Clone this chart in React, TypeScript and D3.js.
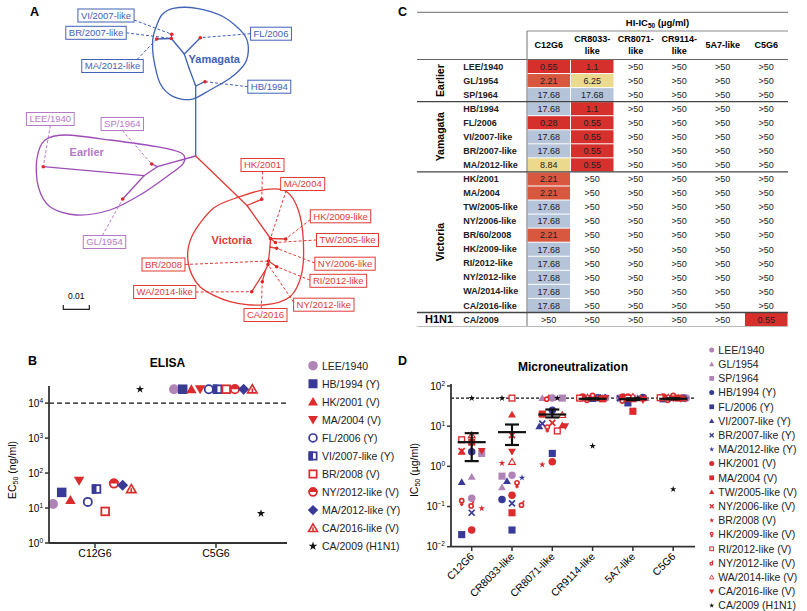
import * as d3 from "d3";

const FONT = "Arial, 'Liberation Sans', Helvetica, sans-serif";
const RED = "#db2b2d";
const BLUE = "#393a98";
const LILAC = "#b184b7";
const YAM = "#3f62b6";
const EAR = "#9d4db6";
const EAR_LIGHT = "#b57ac6";
const VIC = "#e23a35";

// ---------- A: tree (layout units of panel A) ----------
// id, x, y, parent, clade
const treeNodes: [string, number, number, string | null, string][] = [
  ["root", 195.7, 156, null, "Y"],
  ["Y1", 195.7, 86, "root", "Y"],
  ["HB/1994", 205, 81.7, "Y1", "Y"],
  ["Y1b", 189, 68, "Y1", "Y"],
  ["Y2", 184.3, 54, "Y1b", "Y"],
  ["FL/2006", 200.3, 37.7, "Y2", "Y"],
  ["BR/2007-like", 171.3, 38.5, "Y2", "Y"],
  ["VI/2007-like", 171.7, 34.3, "BR/2007-like", "Y"],
  ["MA/2012-like", 156.7, 39, "BR/2007-like", "Y"],
  ["E1", 157.3, 166.7, "root", "E"],
  ["SP/1964", 151.7, 164, "E1", "E"],
  ["E2", 144, 175.7, "E1", "E"],
  ["LEE/1940", 43.3, 166.7, "E2", "E"],
  ["GL/1954", 122.7, 199, "E2", "E"],
  ["V0", 247, 205.5, "root", "V"],
  ["HK/2001", 261.7, 199.3, "V0", "V"],
  ["MA/2004", 270.5, 238.5, "V0", "V"],
  ["HK/2009-like", 285.7, 239, "MA/2004", "V"],
  ["TW/2005-like", 275.5, 242.5, "MA/2004", "V"],
  ["V1b", 270, 247, "MA/2004", "V"],
  ["NY/2006-like", 276.7, 248.3, "V1b", "V"],
  ["BR/2008", 268.5, 261, "V1b", "V"],
  ["RI/2012-like", 276.7, 266.7, "BR/2008", "V"],
  ["NY/2012-like", 268, 264.5, "BR/2008", "V"],
  ["V3", 265.5, 270, "NY/2012-like", "V"],
  ["CA/2016", 262.3, 281.7, "V3", "V"],
  ["WA/2014-like", 251.7, 291.7, "V3", "V"],
];

// text, box centre x, y, leader anchor on box (fraction of half width / half height)
const treeLabels: [string, number, number, number, number][] = [
  ["VI/2007-like", 106, 15.5, 1, 0.7],
  ["BR/2007-like", 96, 32.8, 1, 0],
  ["MA/2012-like", 112.5, 66, 0.8, -1],
  ["FL/2006", 271, 33.7, -1, 0],
  ["HB/1994", 269.3, 86.7, -1, 0],
  ["LEE/1940", 50.3, 119, 0, 1],
  ["SP/1964", 122.3, 124, 0, 1],
  ["GL/1954", 104.5, 242, -0.1, -1],
  ["HK/2001", 262.5, 165, 0, 1],
  ["MA/2004", 302.7, 184, -0.75, 1],
  ["HK/2009-like", 340.5, 216.3, -1, 0.5],
  ["TW/2005-like", 347.5, 240, -1, 0],
  ["NY/2006-like", 345, 263.7, -1, -0.1],
  ["RI/2012-like", 338.3, 280.8, -1, -0.1],
  ["NY/2012-like", 323.8, 304.7, -1, -0.4],
  ["CA/2016", 265.5, 315, -0.2, -1],
  ["WA/2014-like", 164.7, 292, 1, 0],
  ["BR/2008", 163.5, 264.5, 1, 0],
];

const yamagataHull: [number, number][] = [
  [155, 30], [161.7, 15], [173.3, 8.3], [196.7, 8.3], [223.3, 16.7], [243.3, 33.3], [248.3, 46.7],
  [245, 63.3], [230, 78.3], [210, 90], [191.7, 99.3], [173.3, 96.7], [160, 83.3], [153.3, 56.7], [152.7, 40],
];
const earlierHull: [number, number][] = [
  [36.7, 160], [45, 140], [66.7, 135], [110, 140], [156.7, 146.7], [181.7, 153.3],
  [183.3, 163.3], [166.7, 176.7], [140, 195], [110, 210], [76.7, 215], [50, 206.7], [38.3, 186.7],
];
const victoriaHull: [number, number][] = [
  [213.3, 208.3], [240, 196.7], [266.7, 189.3], [286.7, 191.7], [298.3, 210], [303.3, 240],
  [301.7, 273.3], [290, 296.7], [263.3, 305], [230, 301.7], [200, 286.7], [188.3, 263.3], [191.7, 236.7],
];
const cladeNames = ["Yamagata", "Earlier", "Victoria"];
const cladeNamePos: [number, number][] = [[214.3, 63], [86.7, 156], [231.7, 244.3]];

// ---------- B: ELISA ----------
const elisaAntibodies = ["C12G6", "C5G6"];
const elisaViruses = [
  "LEE/1940", "HB/1994 (Y)", "HK/2001 (V)", "MA/2004 (V)", "FL/2006 (Y)", "VI/2007-like (Y)",
  "BR/2008 (V)", "NY/2012-like (V)", "MA/2012-like (Y)", "CA/2016-like (V)", "CA/2009 (H1N1)",
];
const elisaC12G6 = [13, 28, 17, 60, 15, 35, 8, 50, 45, 35, 25000];
const elisaC5G6 = [25000, 25000, 25000, 25000, 25000, 25000, 25000, 25000, 25000, 25000, 7];
const elisaKinds = [
  "circle", "square", "triangle", "triangleDown", "circleOpen", "squareHalf",
  "squareOpen", "circleHalf", "diamond", "triangleHalf", "star",
];
const elisaColors = [LILAC, BLUE, RED, RED, BLUE, BLUE, RED, RED, BLUE, RED, "#111"];
const elisaTicks = [1, 10, 100, 1000, 10000];

// ---------- C: HI table ----------
const hiAntibodies = ["C12G6", "CR8033-like", "CR8071-like", "CR9114-like", "5A7-like", "C5G6"];
const hiHeaderLines = [["C12G6"], ["CR8033-", "like"], ["CR8071-", "like"], ["CR9114-", "like"], ["5A7-like"], ["C5G6"]];
const hiGroupNames = ["Earlier", "Yamagata", "Victoria", "H1N1"];
const hiGroupSizes = [3, 5, 10, 1];
const hiViruses = [
  "LEE/1940", "GL/1954", "SP/1964", "HB/1994", "FL/2006", "VI/2007-like", "BR/2007-like", "MA/2012-like",
  "HK/2001", "MA/2004", "TW/2005-like", "NY/2006-like", "BR/60/2008", "HK/2009-like", "RI/2012-like",
  "NY/2012-like", "WA/2014-like", "CA/2016-like", "CA/2009",
];
const G = ">50";
const hiC12G6 = ["0.55", "2.21", "17.68", "17.68", "0.28", "17.68", "17.68", "8.84", "2.21", "2.21", "17.68", "17.68", "2.21", "17.68", "17.68", "17.68", "17.68", "17.68", G];
const hiCR8033 = ["1.1", "6.25", "17.68", "1.1", "0.55", "0.55", "0.55", "0.55", G, G, G, G, G, G, G, G, G, G, G];
const hiCR8071 = [G, G, G, G, G, G, G, G, G, G, G, G, G, G, G, G, G, G, G];
const hiCR9114 = [G, G, G, G, G, G, G, G, G, G, G, G, G, G, G, G, G, G, G];
const hi5A7 = [G, G, G, G, G, G, G, G, G, G, G, G, G, G, G, G, G, G, G];
const hiC5G6 = [G, G, G, G, G, G, G, G, G, G, G, G, G, G, G, G, G, G, "0.55"];
const hiColumns = [hiC12G6, hiCR8033, hiCR8071, hiCR9114, hi5A7, hiC5G6];

// ---------- D: microneutralization ----------
const mnAntibodies = ["C12G6", "CR8033-like", "CR8071-like", "CR9114-like", "5A7-like", "C5G6"];
const mnViruses = [
  "LEE/1940", "GL/1954", "SP/1964", "HB/1994 (Y)", "FL/2006 (Y)", "VI/2007-like (Y)", "BR/2007-like (Y)",
  "MA/2012-like (Y)", "HK/2001 (V)", "MA/2004 (V)", "TW/2005-like (V)", "NY/2006-like (V)", "BR/2008 (V)",
  "HK/2009-like (V)", "RI/2012-like (V)", "NY/2012-like (V)", "WA/2014-like (V)", "CA/2016-like (V)", "CA/2009 (H1N1)",
];
const mnC12G6 = [0.16, 0.55, 2.1, 2.3, 0.02, 0.41, 0.07, 2.5, 0.026, 4.0, 2.3, 2.4, 0.09, 0.13, 4.6, 0.11, 6.0, 2.4, 50];
const mnCR8033 = [0.6, 0.3, 0.57, 0.15, 0.026, 0.43, 0.12, 0.52, 0.19, 0.07, 19.5, 6.0, 1.2, 0.36, 50, 0.115, 1.3, 2.3, 50];
const mnCR8071 = [50, 50, 50, 25, 2.1, 10, 11.6, 18.7, 1.3, 20, 10.6, 12, 1.1, 8.8, 7.6, 50, 19, 10, 50];
const mnCR9114 = [50, 50, 50, 51, 49, 50, 52, 50, 53, 48, 50, 49, 51, 54, 50, 47, 52, 50, 3.2];
const mn5A7 = [50, 50, 50, 52, 38, 50, 49, 51, 53, 23.5, 47, 50, 48, 52, 50, 45, 54, 44, 50];
const mnC5G6 = [50, 50, 50, 50, 48, 51, 50, 49, 53, 50, 52, 48, 50, 54, 51, 47, 52, 49, 0.27];
const mnValues = [mnC12G6, mnCR8033, mnCR8071, mnCR9114, mn5A7, mnC5G6];
const mnMean = [4.0, 7.1, 19.5, 48, 47, 48];
const mnSemLow = [1.35, 3.4, 16.5, 46.5, 44.5, 46.5];
const mnSemHigh = [6.7, 11, 26, 49.5, 49.5, 49.5];
const mnKinds = [
  "circle", "triangle", "square", "circle", "square", "triangle", "x", "star", "circle", "square",
  "triangle", "x", "star", "female", "squareOpen", "male", "triangleOpen", "triangleDown", "star",
];
const mnColors = [
  LILAC, LILAC, LILAC, BLUE, BLUE, BLUE, BLUE, BLUE, RED, RED,
  RED, RED, RED, RED, RED, RED, RED, RED, "#111",
];
const mnTicks = [0.01, 0.1, 1, 10, 100];
const mnCutoff = 50;

let ctx: CanvasRenderingContext2D | null = null;
function textWidth(t: string, size: number, weight = "normal") {
  if (!ctx) ctx = document.createElement("canvas").getContext("2d");
  if (!ctx) return t.length * size * 0.55;
  ctx.font = `${weight} ${size}px 'Liberation Sans', Arial, sans-serif`;
  return ctx.measureText(t).width;
}

function Marker({ kind, x, y, s, c }: { kind: string; x: number; y: number; s: number; c: string }) {
  const h = s / 2;
  const sw = Math.max(1, s * 0.18);
  const up = `M${x},${y - h}L${x + h * 1.05},${y + h * 0.8}L${x - h * 1.05},${y + h * 0.8}Z`;
  const down = `M${x},${y + h}L${x + h * 1.05},${y - h * 0.8}L${x - h * 1.05},${y - h * 0.8}Z`;
  const q = h * 0.95;
  switch (kind) {
    case "circle":
      return <circle cx={x} cy={y} r={h} fill={c} />;
    case "square":
      return <rect x={x - q} y={y - q} width={2 * q} height={2 * q} fill={c} />;
    case "triangle":
      return <path d={up} fill={c} />;
    case "triangleDown":
      return <path d={down} fill={c} />;
    case "diamond":
      return <path d={`M${x},${y - h * 1.1}L${x + h * 1.1},${y}L${x},${y + h * 1.1}L${x - h * 1.1},${y}Z`} fill={c} />;
    case "circleOpen":
      return <circle cx={x} cy={y} r={h - sw / 2} fill="white" stroke={c} strokeWidth={sw} />;
    case "squareOpen":
      return <rect x={x - q + sw / 2} y={y - q + sw / 2} width={2 * q - sw} height={2 * q - sw} fill="white" stroke={c} strokeWidth={sw} />;
    case "triangleOpen":
      return <path d={up} fill="white" stroke={c} strokeWidth={sw} strokeLinejoin="miter" transform={`translate(${x},${y}) scale(0.85) translate(${-x},${-y})`} />;
    case "squareHalf":
      return (
        <g>
          <rect x={x - q + sw / 2} y={y - q + sw / 2} width={2 * q - sw} height={2 * q - sw} fill="white" stroke={c} strokeWidth={sw} />
          <rect x={x - q} y={y - q} width={q} height={2 * q} fill={c} />
        </g>
      );
    case "circleHalf":
      return (
        <g>
          <circle cx={x} cy={y} r={h - sw / 2} fill="white" stroke={c} strokeWidth={sw} />
          <path d={`M${x - h},${y}A${h},${h} 0 0 1 ${x + h},${y}Z`} fill={c} />
        </g>
      );
    case "triangleHalf":
      return (
        <g transform={`translate(${x},${y}) scale(0.9) translate(${-x},${-y})`}>
          <path d={up} fill="white" stroke={c} strokeWidth={sw} />
          <rect x={x - sw / 2} y={y - h * 0.2} width={sw} height={h * 0.9} fill={c} />
        </g>
      );
    case "star": {
      const r = h * 1.15;
      const p = d3.symbol(d3.symbolStar, (r * r) / 0.8908)() || "";
      return <path d={p} transform={`translate(${x},${y})`} fill={c} />;
    }
    case "x":
      return (
        <g stroke={c} strokeWidth={sw * 1.3} strokeLinecap="butt">
          <line x1={x - h * 0.8} y1={y - h * 0.8} x2={x + h * 0.8} y2={y + h * 0.8} />
          <line x1={x - h * 0.8} y1={y + h * 0.8} x2={x + h * 0.8} y2={y - h * 0.8} />
        </g>
      );
    case "female":
      return (
        <g stroke={c} strokeWidth={sw * 1.2} fill="white">
          <circle cx={x} cy={y - h * 0.35} r={h * 0.55} />
          <line x1={x} y1={y + h * 0.2} x2={x} y2={y + h * 1.1} />
          <line x1={x - h * 0.45} y1={y + h * 0.65} x2={x + h * 0.45} y2={y + h * 0.65} />
        </g>
      );
    case "male":
      return (
        <g stroke={c} strokeWidth={sw * 1.2} fill="white">
          <circle cx={x - h * 0.15} cy={y + h * 0.3} r={h * 0.55} />
          <line x1={x + h * 0.1} y1={y - h * 0.15} x2={x + h * 0.55} y2={y - h * 0.95} />
        </g>
      );
    default:
      return null;
  }
}

function TreePanel() {
  const byId = new Map(treeNodes.map((n) => [n[0], n]));
  const cladeColor: Record<string, string> = { Y: YAM, E: EAR, V: VIC };
  const boxColor: Record<string, string> = { Y: YAM, E: EAR_LIGHT, V: VIC };
  const hull = d3.line().curve(d3.curveCardinalClosed.tension(0.1));
  const dist = d3.scaleLinear().domain([0, 0.01]).range([0, 26]);
  const hulls: [[number, number][], string][] = [
    [yamagataHull, YAM],
    [earlierHull, EAR],
    [victoriaHull, VIC],
  ];
  const fs = 9.5;
  const bh = 13;
  return (
    <g>
      <text x={30} y={16} fontWeight="bold" fontSize={12.5}>A</text>
      {hulls.map(([pts, col], i) => (
        <path key={i} d={hull(pts) || ""} fill="none" stroke={col} strokeWidth={1.3} />
      ))}
      {treeNodes
        .filter((n) => n[3])
        .map((n) => {
          const p = byId.get(n[3] as string)!;
          return <line key={n[0]} x1={p[1]} y1={p[2]} x2={n[1]} y2={n[2]} stroke={cladeColor[n[4]]} strokeWidth={1.3} strokeLinecap="round" />;
        })}
      {treeLabels.map(([t, cx, cy, ax, ay]) => {
        const node = byId.get(t)!;
        const col = boxColor[node[4]];
        const w = textWidth(t, fs) + 6;
        return (
          <g key={t}>
            <line x1={cx + (ax * w) / 2} y1={cy + (ay * bh) / 2} x2={node[1]} y2={node[2]} stroke={col} strokeWidth={1} strokeDasharray="3,2" />
            <rect x={cx - w / 2} y={cy - bh / 2} width={w} height={bh} fill="white" stroke={col} strokeWidth={1} />
            <text x={cx} y={cy + 3.4} textAnchor="middle" fontSize={fs} fill={col}>{t}</text>
          </g>
        );
      })}
      {treeLabels.map(([t]) => {
        const node = byId.get(t)!;
        return <circle key={t} cx={node[1]} cy={node[2]} r={1.8} fill="#e02525" />;
      })}
      {cladeNames.map((name, i) => (
        <text key={name} x={cladeNamePos[i][0]} y={cladeNamePos[i][1]} textAnchor="middle" fontWeight="bold" fontSize={11}
          fill={[YAM, EAR_LIGHT, VIC][i]}>{name}</text>
      ))}
      <g stroke="#222" strokeWidth={1.2} fill="none">
        <path d={`M63.3,305V309.3H${63.3 + dist(0.01)}V305`} />
      </g>
      <text x={63.3 + dist(0.005)} y={299} textAnchor="middle" fontSize={8.5}>0.01</text>
    </g>
  );
}

function TablePanel() {
  const x = d3.scaleBand().domain(hiAntibodies).range([527, 788]);
  const y = d3.scaleBand().domain(hiViruses).range([59.5, 326.5]);
  const step = y.step();
  const colors = (v: string) => {
    const n = parseFloat(v);
    if (isNaN(n)) return null;
    if (n <= 1.1) return "#d5302c";
    if (n <= 2.21) return "#d8573f";
    if (n <= 10) return "#ebd98d";
    return "#b5c4d9";
  };
  const bounds: number[] = [];
  let acc = 0;
  hiGroupSizes.forEach((s) => {
    bounds.push(acc);
    acc += s;
  });
  return (
    <g fontSize={9}>
      <text x={398} y={16} fontWeight="bold" fontSize={12.5}>C</text>
      <line x1={417} x2={788} y1={12.3} y2={12.3} stroke="#888" strokeWidth={1.2} />
      <text x={(527 + 788) / 2} y={26} textAnchor="middle" fontWeight="bold" fontSize={9.5}>
        HI-IC<tspan fontSize={6.5} dy={2}>50</tspan><tspan dy={-2}> (µg/ml)</tspan>
      </text>
      <line x1={527} x2={788} y1={31} y2={31} stroke="#888" strokeWidth={1.2} />
      {hiHeaderLines.map((lines, i) => (
        <text key={i} x={x(hiAntibodies[i])! + x.bandwidth() / 2} textAnchor="middle" fontWeight="bold">
          {lines.map((l, j) => (
            <tspan key={j} x={x(hiAntibodies[i])! + x.bandwidth() / 2} y={lines.length === 1 ? 48.3 : 41.7 + j * 12.3}>{l}</tspan>
          ))}
        </text>
      ))}
      <line x1={417} x2={788} y1={59.5} y2={59.5} stroke="#666" strokeWidth={1.2} />
      {hiColumns.map((col, ci) =>
        col.map((v, ri) => {
          const fill = colors(v);
          const cx = x(hiAntibodies[ci])!;
          const cy = y(hiViruses[ri])!;
          return (
            <g key={`${ci}-${ri}`}>
              {fill && <rect x={cx + 0.5} y={cy + 0.5} width={x.bandwidth() - 1} height={step - 1} fill={fill} />}
              <text x={cx + x.bandwidth() / 2} y={cy + step / 2 + 3.3} textAnchor="middle" fill="#222">{v}</text>
            </g>
          );
        })
      )}
      {hiViruses.map((v) => (
        <text key={v} x={463.3} y={y(v)! + step / 2 + 3.1} fontWeight="bold" fill="#222">{v}</text>
      ))}
      <line x1={527} x2={527} y1={31} y2={326.5} stroke="#888" strokeWidth={1.2} />
      {bounds.slice(1).map((b) => (
        <line key={b} x1={417} x2={788} y1={y(hiViruses[b])!} y2={y(hiViruses[b])!} stroke="#444" strokeWidth={1.4} />
      ))}
      <line x1={417} x2={788} y1={326.5} y2={326.5} stroke="#bbb" strokeWidth={1} />
      {hiGroupNames.map((g, i) => {
        const top = y(hiViruses[bounds[i]])!;
        const mid = top + (hiGroupSizes[i] * step) / 2;
        return g === "H1N1" ? (
          <text key={g} x={425} y={mid + 4} fontWeight="bold" fontSize={11}>{g}</text>
        ) : (
          <text key={g} transform={`translate(443.5,${mid}) rotate(-90)`} textAnchor="middle" fontWeight="bold" fontSize={10.5}>{g}</text>
        );
      })}
    </g>
  );
}

function ElisaPanel() {
  const x = d3.scalePoint().domain(elisaAntibodies).range([95, 216]);
  const dodge = d3.scalePoint().domain(elisaViruses).range([-42, 45]);
  const y = d3.scaleLog().domain([1, Math.pow(10, 4.49)]).range([543, 386]);
  const series = [elisaC12G6, elisaC5G6];
  return (
    <g>
      <text x={28} y={365} fontWeight="bold" fontSize={12.5}>B</text>
      <text x={167.5} y={366.7} textAnchor="middle" fontWeight="bold" fontSize={12}>ELISA</text>
      <line x1={49} x2={287} y1={y(1e4)} y2={y(1e4)} stroke="#111" strokeWidth={1.4} strokeDasharray="5,3" />
      {series.map((vals, ai) =>
        vals.map((v, vi) => (
          <Marker key={`${ai}-${vi}`} kind={elisaKinds[vi]} x={x(elisaAntibodies[ai])! + dodge(elisaViruses[vi])!} y={y(v)}
            s={vi === 10 ? 7.5 : 10} c={elisaColors[vi]} />
        ))
      )}
      <line x1={49} x2={49} y1={386} y2={543} stroke="#333" strokeWidth={1.8} />
      <line x1={49} x2={287} y1={543} y2={543} stroke="#333" strokeWidth={1.8} />
      {elisaTicks.map((t, i) => (
        <g key={t}>
          <line x1={45} x2={49} y1={y(t)} y2={y(t)} stroke="#333" strokeWidth={1.5} />
          <text x={43} y={y(t) + 3.5} textAnchor="end" fontSize={10}>
            10<tspan fontSize={6.5} dy={-4}>{i}</tspan>
          </text>
        </g>
      ))}
      {elisaAntibodies.map((a) => (
        <g key={a}>
          <line x1={x(a)} x2={x(a)} y1={543} y2={548} stroke="#333" strokeWidth={1.5} />
          <text x={x(a)} y={557} textAnchor="middle" fontSize={10.5}>{a}</text>
        </g>
      ))}
      <text transform="translate(16,470) rotate(-90)" textAnchor="middle" fontSize={10.5}>
        EC<tspan fontSize={7} dy={2}>50</tspan><tspan dy={-2}> (ng/ml)</tspan>
      </text>
      {elisaViruses.map((v, i) => (
        <g key={v}>
          <Marker kind={elisaKinds[i]} x={313} y={365.7 + i * 18.05} s={i === 10 ? 8 : 9.5} c={elisaColors[i]} />
          <text x={322} y={365.7 + i * 18.05 + 3.8} fontSize={10.5} fill="#222">{v}</text>
        </g>
      ))}
    </g>
  );
}

function swarm(ys: number[], cands: number[], minDist: number) {
  const order = ys.map((_, i) => i).sort((a, b) => ys[a] - ys[b]);
  const placed: [number, number][] = [];
  const out = ys.map(() => 0);
  order.forEach((i, k) => {
    let chosen: number | null = null;
    for (const c of cands) {
      if (placed.every(([px, py]) => Math.hypot(px - c, py - ys[i]) >= minDist)) {
        chosen = c;
        break;
      }
    }
    if (chosen === null) chosen = cands[k % cands.length];
    out[i] = chosen;
    placed.push([chosen, ys[i]]);
  });
  return out;
}

function MnPanel() {
  const x = d3.scalePoint().domain(mnAntibodies).range([471.7, 673.2]);
  const y = d3.scaleLog().domain([0.01, 100]).range([546.7, 386]);
  const cands = [0, -10, 10, -5, 5, -13, 13];
  return (
    <g>
      <text x={398} y={365} fontWeight="bold" fontSize={12.5}>D</text>
      <text x={573} y={371} textAnchor="middle" fontWeight="bold" fontSize={12}>Microneutralization</text>
      <line x1={451} x2={695} y1={y(mnCutoff)} y2={y(mnCutoff)} stroke="#111" strokeWidth={1.3} strokeDasharray="3,2" />
      {mnValues.map((vals, ai) => {
        const ys = vals.map((v) => y(v));
        const off = swarm(ys, cands, 6.5);
        return vals.map((v, vi) => (
          <Marker key={`${ai}-${vi}`} kind={mnKinds[vi]} x={x(mnAntibodies[ai])! + off[vi]} y={y(v)}
            s={mnKinds[vi] === "star" ? 6 : 7.5} c={mnColors[vi]} />
        ));
      })}
      {mnAntibodies.map((a, i) => {
        const cx = x(a)!;
        return (
          <g key={a} stroke="#111" strokeWidth={2.2}>
            <line x1={cx - 14} x2={cx + 14} y1={y(mnMean[i])} y2={y(mnMean[i])} />
            <line x1={cx} x2={cx} y1={y(mnSemLow[i])} y2={y(mnSemHigh[i])} />
            <line x1={cx - 7} x2={cx + 7} y1={y(mnSemLow[i])} y2={y(mnSemLow[i])} />
            <line x1={cx - 7} x2={cx + 7} y1={y(mnSemHigh[i])} y2={y(mnSemHigh[i])} />
          </g>
        );
      })}
      <line x1={451} x2={451} y1={384} y2={546.7} stroke="#333" strokeWidth={1.8} />
      <line x1={451} x2={695} y1={546.7} y2={546.7} stroke="#333" strokeWidth={1.8} />
      {mnTicks.map((t, i) => (
        <g key={t}>
          <line x1={447} x2={451} y1={y(t)} y2={y(t)} stroke="#333" strokeWidth={1.5} />
          <text x={445} y={y(t) + 3.5} textAnchor="end" fontSize={10}>
            10<tspan fontSize={6.5} dy={-4}>{i - 2 < 0 ? `\u2212${2 - i}` : `${i - 2}`}</tspan>
          </text>
        </g>
      ))}
      {mnAntibodies.map((a) => (
        <g key={a}>
          <line x1={x(a)} x2={x(a)} y1={546.7} y2={551} stroke="#333" strokeWidth={1.5} />
          <text transform={`translate(${x(a)! + 3},${557}) rotate(-45)`} textAnchor="end" fontSize={10.5}>{a}</text>
        </g>
      ))}
      <text transform="translate(418,470) rotate(-90)" textAnchor="middle" fontSize={10.5}>
        IC<tspan fontSize={7} dy={2}>50</tspan><tspan dy={-2}> (µg/ml)</tspan>
      </text>
      {mnViruses.map((v, i) => (
        <g key={v}>
          <Marker kind={mnKinds[i]} x={711.7} y={350 + i * 14.2} s={mnKinds[i] === "star" ? 4.5 : 5} c={mnColors[i]} />
          <text x={718.3} y={350 + i * 14.2 + 3.7} fontSize={10.5} fill="#222">{v}</text>
        </g>
      ))}
    </g>
  );
}

export default function App() {
  return (
    <svg width={807} height={611} fontFamily={FONT} style={{ position: "absolute", left: 0, top: 0, background: "white" }}>
      <TreePanel />
      <TablePanel />
      <ElisaPanel />
      <MnPanel />
    </svg>
  );
}
